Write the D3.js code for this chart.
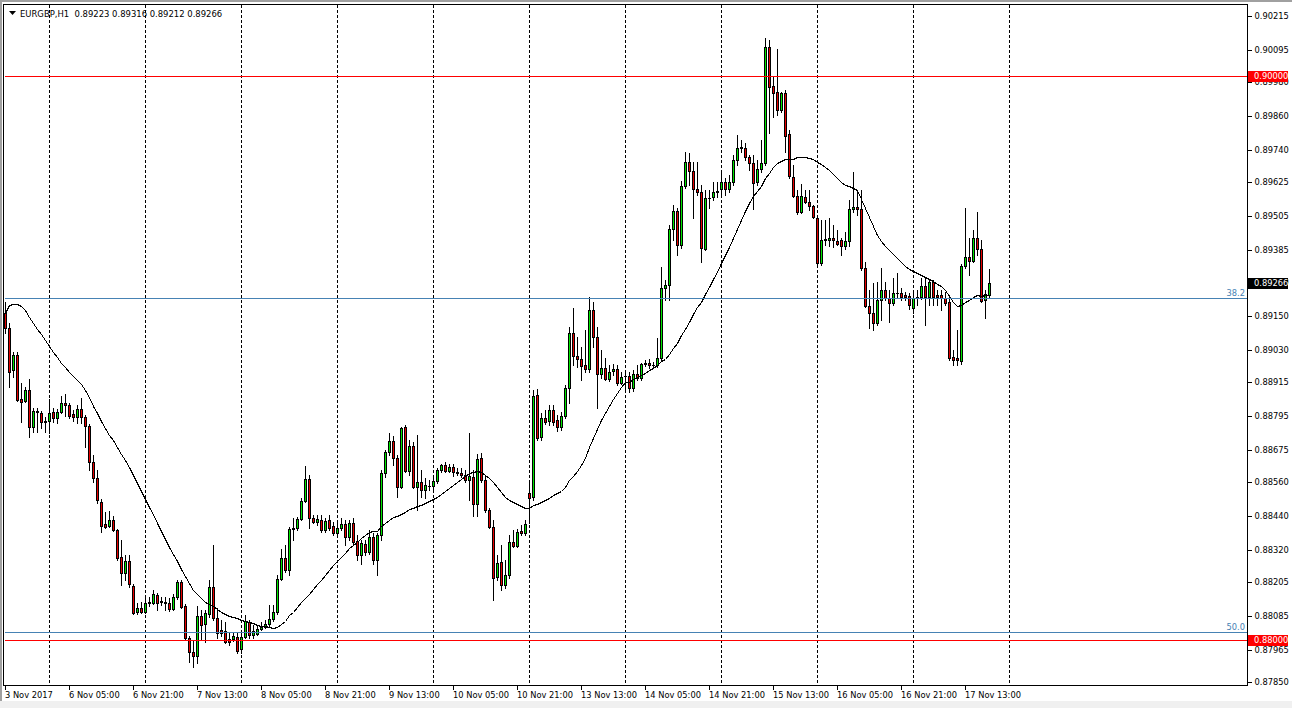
<!DOCTYPE html>
<html><head><meta charset="utf-8">
<script src="https://cdn.jsdelivr.net/npm/d3@7"></script>
<style>
html,body{margin:0;padding:0;background:#fff;overflow:hidden}
svg text{font-family:"DejaVu Sans",sans-serif;font-size:8.3px}
</style>
</head><body><svg id="c" width="1292" height="708"></svg>
<script>
// ---------------- data ----------------
const symbolTitle = "EURGBP,H1";
const lastBarOHLC = [0.89223, 0.89316, 0.89212, 0.89266];

const opens = [
0.89160,0.89107,0.88958,0.89011,0.88855,0.88848,0.88887,0.88756,0.88812,0.88805,
0.88777,0.88777,0.88809,0.88788,0.88809,0.88841,0.88834,0.88802,0.88791,0.88820,
0.88791,0.88759,0.88632,0.88575,0.88490,0.88412,0.88405,0.88426,0.88390,0.88295,
0.88238,0.88280,0.88192,0.88099,0.88114,0.88099,0.88131,0.88131,0.88160,0.88135,
0.88135,0.88131,0.88110,0.88153,0.88206,0.88121,0.88007,0.87957,0.87943,0.88085,
0.88057,0.88092,0.88188,0.88078,0.88036,0.88032,0.88004,0.88004,0.88011,0.87968,
0.88011,0.88064,0.88018,0.88021,0.88039,0.88046,0.88057,0.88075,0.88099,0.88216,
0.88291,0.88248,0.88394,0.88397,0.88429,0.88493,0.88571,0.88433,0.88419,0.88426,
0.88390,0.88426,0.88405,0.88380,0.88397,0.88412,0.88365,0.88415,0.88351,0.88302,
0.88341,0.88312,0.88365,0.88284,0.88373,0.88593,0.88667,0.88706,0.88646,0.88543,
0.88756,0.88600,0.88688,0.88543,0.88561,0.88532,0.88546,0.88546,0.88564,0.88603,
0.88621,0.88600,0.88614,0.88596,0.88593,0.88585,0.88568,0.88578,0.88483,0.88646,
0.88568,0.88461,0.88401,0.88224,0.88277,0.88195,0.88231,0.88348,0.88334,0.88387,
0.88380,0.88522,0.88507,0.88869,0.88720,0.88788,0.88777,0.88816,0.88781,0.88756,
0.88795,0.88894,0.89089,0.89008,0.88997,0.88976,0.88962,0.89171,0.89075,0.88944,
0.88965,0.88926,0.88954,0.88962,0.88912,0.88937,0.88937,0.88894,0.88944,0.88930,
0.88979,0.88983,0.88976,0.88976,0.89001,0.89249,0.89260,0.89458,0.89522,0.89401,
0.89611,0.89696,0.89664,0.89600,0.89589,0.89387,0.89568,0.89572,0.89589,0.89600,
0.89625,0.89600,0.89625,0.89703,0.89746,0.89746,0.89714,0.89692,0.89625,0.89671,
0.89692,0.90104,0.89966,0.89944,0.89880,0.89941,0.89795,0.89643,0.89575,0.89519,
0.89572,0.89554,0.89540,0.89497,0.89338,0.89424,0.89419,0.89427,0.89417,0.89419,
0.89399,0.89417,0.89529,0.89536,0.89529,0.89320,0.89185,0.89160,0.89125,0.89206,
0.89242,0.89213,0.89196,0.89231,0.89231,0.89224,0.89220,0.89178,0.89213,0.89217,
0.89256,0.89217,0.89270,0.89224,0.89224,0.89213,0.89199,0.89004,0.89001,0.88990,
0.89327,0.89359,0.89345,0.89427,0.89387,0.89206,0.89223];

const highs = [
0.89199,0.89125,0.89022,0.89022,0.88912,0.88898,0.88926,0.88823,0.88823,0.88812,
0.88791,0.88855,0.88823,0.88820,0.88866,0.88873,0.88841,0.88816,0.88834,0.88859,
0.88798,0.88766,0.88656,0.88603,0.88500,0.88454,0.88458,0.88440,0.88394,0.88355,
0.88302,0.88302,0.88199,0.88131,0.88135,0.88149,0.88153,0.88177,0.88167,0.88153,
0.88153,0.88149,0.88163,0.88213,0.88213,0.88128,0.88014,0.88000,0.88121,0.88106,
0.88106,0.88213,0.88337,0.88114,0.88071,0.88064,0.88025,0.88025,0.88025,0.88025,
0.88089,0.88071,0.88053,0.88053,0.88064,0.88071,0.88124,0.88124,0.88231,0.88323,
0.88337,0.88401,0.88433,0.88436,0.88504,0.88617,0.88585,0.88444,0.88444,0.88444,
0.88433,0.88444,0.88419,0.88426,0.88433,0.88426,0.88426,0.88433,0.88373,0.88355,
0.88355,0.88390,0.88380,0.88380,0.88603,0.88674,0.88734,0.88724,0.88656,0.88756,
0.88763,0.88710,0.88703,0.88727,0.88603,0.88575,0.88568,0.88575,0.88610,0.88624,
0.88632,0.88624,0.88624,0.88610,0.88610,0.88603,0.88734,0.88603,0.88660,0.88663,
0.88582,0.88468,0.88426,0.88302,0.88337,0.88284,0.88373,0.88390,0.88394,0.88408,
0.88426,0.88557,0.88887,0.88891,0.88805,0.88816,0.88834,0.88834,0.88798,0.88809,
0.88905,0.89111,0.89178,0.89075,0.89039,0.89100,0.89217,0.89199,0.89111,0.89029,
0.89001,0.88976,0.88979,0.88976,0.88951,0.88951,0.88951,0.88958,0.88976,0.88983,
0.88993,0.88997,0.88986,0.89071,0.89323,0.89277,0.89472,0.89543,0.89533,0.89630,
0.89731,0.89728,0.89696,0.89696,0.89614,0.89597,0.89597,0.89625,0.89625,0.89668,
0.89639,0.89650,0.89721,0.89792,0.89774,0.89763,0.89721,0.89721,0.89703,0.89774,
0.90136,0.90129,0.89998,0.90097,0.89944,0.89951,0.89810,0.89685,0.89597,0.89618,
0.89597,0.89597,0.89543,0.89508,0.89490,0.89490,0.89497,0.89472,0.89455,0.89427,
0.89448,0.89561,0.89660,0.89589,0.89597,0.89341,0.89242,0.89267,0.89270,0.89320,
0.89270,0.89242,0.89284,0.89302,0.89249,0.89235,0.89231,0.89242,0.89242,0.89284,
0.89284,0.89277,0.89277,0.89242,0.89242,0.89235,0.89224,0.89029,0.89100,0.89334,
0.89533,0.89427,0.89455,0.89519,0.89419,0.89242,0.89316];

const lows = [
0.89089,0.88898,0.88933,0.88848,0.88773,0.88844,0.88720,0.88738,0.88738,0.88752,
0.88738,0.88734,0.88773,0.88770,0.88805,0.88795,0.88788,0.88777,0.88770,0.88770,
0.88685,0.88603,0.88561,0.88486,0.88383,0.88397,0.88401,0.88387,0.88284,0.88195,
0.88213,0.88188,0.88092,0.88092,0.88096,0.88096,0.88121,0.88128,0.88106,0.88124,
0.88106,0.88103,0.88106,0.88145,0.88114,0.88000,0.87922,0.87904,0.87918,0.88000,
0.87993,0.88082,0.88071,0.88007,0.88014,0.87989,0.87982,0.87996,0.87954,0.87954,
0.88007,0.88007,0.88007,0.88018,0.88036,0.88043,0.88050,0.88067,0.88092,0.88213,
0.88241,0.88231,0.88355,0.88390,0.88426,0.88490,0.88397,0.88415,0.88408,0.88383,
0.88383,0.88390,0.88373,0.88365,0.88390,0.88337,0.88355,0.88337,0.88284,0.88270,
0.88302,0.88305,0.88270,0.88231,0.88355,0.88578,0.88656,0.88621,0.88507,0.88539,
0.88596,0.88585,0.88539,0.88461,0.88507,0.88504,0.88532,0.88532,0.88557,0.88596,
0.88596,0.88596,0.88582,0.88585,0.88578,0.88561,0.88497,0.88440,0.88440,0.88561,
0.88454,0.88397,0.88142,0.88213,0.88177,0.88185,0.88220,0.88330,0.88330,0.88373,
0.88373,0.88415,0.88497,0.88710,0.88710,0.88766,0.88763,0.88763,0.88742,0.88745,
0.88788,0.88841,0.88976,0.88969,0.88923,0.88951,0.88951,0.89039,0.88823,0.88930,
0.88923,0.88919,0.88940,0.88905,0.88908,0.88887,0.88880,0.88883,0.88923,0.88923,
0.88972,0.88965,0.88969,0.88969,0.88993,0.89206,0.89206,0.89419,0.89366,0.89391,
0.89604,0.89614,0.89497,0.89579,0.89341,0.89384,0.89533,0.89561,0.89572,0.89575,
0.89579,0.89589,0.89614,0.89685,0.89731,0.89703,0.89668,0.89529,0.89614,0.89660,
0.89685,0.89799,0.89856,0.89863,0.89873,0.89731,0.89639,0.89572,0.89511,0.89515,
0.89551,0.89526,0.89497,0.89330,0.89330,0.89403,0.89399,0.89396,0.89401,0.89367,
0.89388,0.89399,0.89519,0.89508,0.89313,0.89182,0.89107,0.89100,0.89118,0.89135,
0.89206,0.89128,0.89189,0.89213,0.89206,0.89206,0.89174,0.89160,0.89189,0.89210,
0.89118,0.89189,0.89189,0.89189,0.89171,0.89189,0.88993,0.88976,0.88976,0.88979,
0.89320,0.89295,0.89341,0.89366,0.89199,0.89142,0.89212];

const closes = [
0.89107,0.88951,0.89011,0.88852,0.88844,0.88887,0.88756,0.88812,0.88809,0.88773,
0.88773,0.88805,0.88788,0.88809,0.88841,0.88834,0.88795,0.88791,0.88820,0.88791,
0.88759,0.88632,0.88575,0.88497,0.88405,0.88401,0.88426,0.88390,0.88291,0.88238,
0.88280,0.88199,0.88096,0.88114,0.88099,0.88131,0.88135,0.88163,0.88131,0.88138,
0.88131,0.88110,0.88153,0.88206,0.88117,0.88007,0.87957,0.87943,0.88085,0.88053,
0.88096,0.88188,0.88078,0.88025,0.88025,0.87993,0.87993,0.88014,0.87961,0.88011,
0.88067,0.88018,0.88032,0.88039,0.88046,0.88057,0.88075,0.88099,0.88216,0.88291,
0.88248,0.88394,0.88397,0.88429,0.88493,0.88571,0.88433,0.88419,0.88429,0.88390,
0.88422,0.88397,0.88380,0.88397,0.88412,0.88365,0.88415,0.88348,0.88302,0.88344,
0.88312,0.88365,0.88284,0.88373,0.88593,0.88667,0.88706,0.88646,0.88543,0.88752,
0.88600,0.88688,0.88543,0.88561,0.88532,0.88550,0.88548,0.88564,0.88603,0.88621,
0.88600,0.88614,0.88596,0.88593,0.88585,0.88568,0.88582,0.88483,0.88642,0.88568,
0.88461,0.88401,0.88220,0.88273,0.88195,0.88231,0.88348,0.88334,0.88383,0.88380,
0.88412,0.88504,0.88866,0.88717,0.88788,0.88773,0.88816,0.88773,0.88756,0.88795,
0.88894,0.89089,0.89008,0.88997,0.88972,0.88962,0.89171,0.89075,0.88944,0.88965,
0.88926,0.88951,0.88962,0.88912,0.88933,0.88935,0.88894,0.88944,0.88930,0.88979,
0.88983,0.88976,0.88977,0.89001,0.89249,0.89260,0.89458,0.89522,0.89401,0.89611,
0.89696,0.89664,0.89600,0.89589,0.89391,0.89568,0.89570,0.89589,0.89593,0.89625,
0.89600,0.89625,0.89703,0.89746,0.89749,0.89714,0.89692,0.89621,0.89671,0.89692,
0.90104,0.89962,0.89941,0.89880,0.89941,0.89788,0.89646,0.89575,0.89519,0.89575,
0.89554,0.89540,0.89501,0.89338,0.89420,0.89419,0.89427,0.89419,0.89406,0.89399,
0.89417,0.89529,0.89536,0.89529,0.89320,0.89185,0.89160,0.89125,0.89206,0.89242,
0.89213,0.89196,0.89231,0.89233,0.89217,0.89217,0.89189,0.89213,0.89217,0.89256,
0.89217,0.89270,0.89217,0.89217,0.89213,0.89196,0.89001,0.88993,0.88993,0.89327,
0.89359,0.89345,0.89427,0.89387,0.89203,0.89228,0.89266];

// moving average (24) values visible for the first bars (earlier bars are off-chart)
const maPeriod = 24;
const maHead = [
0.89159,0.89188,0.89191,0.89191,0.89185,0.89171,0.89147,0.89126,0.89104,0.89086,
0.89064,0.89044,0.89022,0.89003,0.88984,0.88967,0.88952,0.88937,0.88923,0.88907,
0.88887,0.88863,0.88830];

// time scale
const timeLabels = ["3 Nov 2017","6 Nov 05:00","6 Nov 21:00","7 Nov 13:00","8 Nov 05:00",
 "8 Nov 21:00","9 Nov 13:00","10 Nov 05:00","10 Nov 21:00","13 Nov 13:00","14 Nov 05:00",
 "14 Nov 21:00","15 Nov 13:00","16 Nov 05:00","16 Nov 21:00","17 Nov 13:00"];
const timeLabelBars = [0,16,32,48,64,80,96,112,128,144,160,176,192,208,224,240];
const dayStartBars = [11,35,59,83,107,131,155,179,203,227,251];
const barSlots = [-0.375, 310.375];

// price scale
const priceDomain = [0.87840, 0.90257];
const priceTicks = [0.90215,0.90095,0.89980,0.89860,0.89740,0.89625,0.89505,0.89385,0.89270,
 0.89150,0.89030,0.88915,0.88795,0.88675,0.88560,0.88440,0.88320,0.88205,0.88085,0.87965,0.87850];
const levelPrices = [0.90000, 0.88000];
const fibLabels = ["38.2","50.0"];
const fibPrices = [0.89215, 0.88027];

// ---------------- drawing ----------------
const W = 1292, H = 708;
const plot = {left:4, top:4, right:1247, bottom:685};
const bullColor = "#00E600", bearColor = "#E60000", fibColor = "#4682B4";

const svg = d3.select("#c");
svg.append("rect").attr("width",W).attr("height",H).attr("fill","#fff");

const x = d3.scaleLinear().domain(barSlots).range([plot.left, plot.right]);
const y = d3.scaleLinear().domain(priceDomain).range([plot.bottom, plot.top]).interpolate(d3.interpolateRound);

const n = closes.length;
const bars = d3.range(n).map(i => ({i, o:opens[i], h:highs[i], l:lows[i], c:closes[i]}));
const ma = bars.map((b,i) => i < maPeriod-1 ? maHead[i] : d3.mean(closes.slice(i-maPeriod+1, i+1)));

// window chrome
svg.append("rect").attr("x",0).attr("y",0).attr("width",W).attr("height",2).attr("fill","#a0a0a0");
svg.append("rect").attr("x",0).attr("y",0).attr("width",2).attr("height",H).attr("fill","#a0a0a0");
svg.append("rect").attr("x",0).attr("y",701).attr("width",W).attr("height",H-701).attr("fill","#f0f0f0");

// vertical day grid
svg.append("g").selectAll("line").data(dayStartBars).join("line")
  .attr("x1", d => x(d)).attr("x2", d => x(d))
  .attr("y1", plot.top+1).attr("y2", plot.bottom)
  .attr("stroke","#000").attr("stroke-width",1).attr("stroke-dasharray","3,2")
  .attr("shape-rendering","crispEdges");

// candles
const cg = svg.append("g").attr("shape-rendering","crispEdges");
cg.selectAll("line.wick").data(bars).join("line").attr("class","wick")
  .attr("x1", d => x(d.i)).attr("x2", d => x(d.i))
  .attr("y1", d => y(Math.max(d.h,d.o,d.c)))
  .attr("y2", d => y(Math.min(d.l,d.o,d.c)) + 1)
  .attr("stroke","#000");
const bodies = bars.map(d => ({...d, top:y(Math.max(d.o,d.c)), bot:y(Math.min(d.o,d.c))}));
cg.selectAll("rect.body").data(bodies.filter(d => d.bot - d.top >= 2)).join("rect").attr("class","body")
  .attr("x", d => x(d.i) - 1).attr("width", 2)
  .attr("y", d => d.top + 0.5).attr("height", d => d.bot - d.top)
  .attr("fill", d => d.c >= d.o ? bullColor : bearColor)
  .attr("stroke","#000").attr("stroke-width",1);
cg.selectAll("rect.doji").data(bodies.filter(d => d.bot - d.top < 2)).join("rect").attr("class","doji")
  .attr("x", d => x(d.i) - 1.5).attr("width", 3)
  .attr("y", d => d.top).attr("height", d => d.bot - d.top + 1)
  .attr("fill","#000");

// moving average
svg.append("path").datum(ma)
  .attr("d", d3.line().x((d,i) => x(i)).y(d => y(d) + 0.5))
  .attr("fill","none").attr("stroke","#000").attr("stroke-width",1)
  .attr("shape-rendering","crispEdges");

// horizontal levels
svg.append("g").selectAll("line").data(fibPrices).join("line")
  .attr("x1", plot.left+1).attr("x2", plot.right)
  .attr("y1", d => y(d)+0.5).attr("y2", d => y(d)+0.5)
  .attr("stroke", fibColor).attr("stroke-width",1);
svg.append("g").selectAll("text").data(fibPrices).join("text")
  .attr("x", plot.right-2).attr("y", d => y(d)-2).attr("text-anchor","end")
  .attr("fill", fibColor).text((d,k) => fibLabels[k]);
svg.append("g").selectAll("line").data(levelPrices).join("line")
  .attr("x1", plot.left+1).attr("x2", plot.right)
  .attr("y1", d => y(d)+0.5).attr("y2", d => y(d)+0.5)
  .attr("stroke","#ff0000").attr("stroke-width",1);

// plot frame
svg.append("rect").attr("x",plot.left-0.5).attr("y",plot.top+0.5)
  .attr("width",plot.right-plot.left+1).attr("height",plot.bottom-plot.top)
  .attr("fill","none").attr("stroke","#000").attr("shape-rendering","crispEdges");

// price axis
const ya = svg.append("g").attr("transform",`translate(${plot.right+0.5},0)`)
  .call(d3.axisRight(y).tickValues(priceTicks).tickSize(4).tickPadding(3).tickFormat(d3.format(".5f")).offset(0.5));
ya.select(".domain").remove();
ya.attr("font-family",null).attr("font-size",null);
ya.selectAll("text").attr("fill","#000");
ya.selectAll("line").attr("shape-rendering","crispEdges");

// time axis
const xa = svg.append("g").attr("transform",`translate(0,${plot.bottom+0.5})`)
  .call(d3.axisBottom(x).tickValues(timeLabelBars).tickSize(4).tickPadding(3).tickFormat((d,k) => timeLabels[k]).offset(0));
xa.select(".domain").remove();
xa.attr("font-family",null).attr("font-size",null);
xa.selectAll("text").attr("text-anchor","start").attr("x",-0.5).attr("fill","#000");
xa.selectAll("line").attr("shape-rendering","crispEdges");

// boxed price labels
function boxLabel(v, bg){
  const yy = y(v);
  const g = svg.append("g");
  g.append("rect").attr("x",plot.right+1).attr("y",yy-5).attr("width",40).attr("height",11).attr("fill",bg);
  g.append("text").attr("x",plot.right+7).attr("y",yy).attr("dy","0.32em").attr("fill","#fff").text(d3.format(".5f")(v));
}
levelPrices.forEach(v => boxLabel(v, "#ff0000"));
boxLabel(closes[n-1], "#000");

// title
svg.append("path").attr("d","M9,11L16,11L12.5,15Z").attr("fill","#000");
svg.append("text").attr("x",20).attr("y",17).attr("xml:space","preserve").style("white-space","pre")
  .style("font-size","8.45px")
  .text(symbolTitle + "  " + lastBarOHLC.map(d3.format(".5f")).join(" "));
</script>
</body></html>
